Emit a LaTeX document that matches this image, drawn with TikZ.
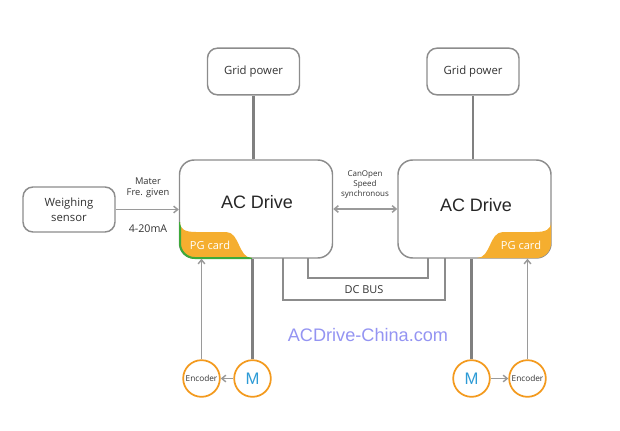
\documentclass[tikz,border=0pt]{standalone}
\usepackage{fontspec}
\setmainfont{Open Sans}
\newfontfamily\arialf{Liberation Sans}
\usetikzlibrary{arrows.meta}
\definecolor{boxgray}{HTML}{8C8C8C}
\definecolor{linegray}{HTML}{808080}
\definecolor{thingray}{HTML}{9A9A9A}
\definecolor{pgorange}{HTML}{F5AE2F}
\definecolor{pggreen}{HTML}{3DAA3A}
\definecolor{circorange}{HTML}{F39A1E}
\definecolor{mblue}{HTML}{2D9BD6}
\definecolor{wmark}{HTML}{9494F2}
\definecolor{txt}{HTML}{333333}
\begin{document}
\begin{tikzpicture}[x=0.75pt,y=-0.75pt,
  rbox/.style={draw=boxgray, line width=1.1pt, rounded corners=7.5pt, fill=white,
    align=center, inner sep=0pt, text=txt, font=\fontsize{8.5}{11}\selectfont,
    minimum width=69pt, minimum height=35pt},
  drivebox/.style={draw=boxgray, line width=1.1pt, rounded corners=11pt,
    minimum width=114.75pt, minimum height=73.5pt, inner sep=0pt},
  drivetext/.style={font=\arialf\fontsize{13.5}{16}\selectfont, text=black!85},
  pgtext/.style={font=\fontsize{8.3}{10}\selectfont, text=white},
  lbl/.style={font=\fontsize{7}{8.5}\selectfont, text=txt, align=center, inner sep=0pt},
  smlbl/.style={font=\fontsize{6}{7.5}\selectfont, text=txt, align=center, inner sep=0pt},
  heavy/.style={draw=linegray, line width=2.2pt},
  thin/.style={draw=thingray, line width=1.1pt},
  arr/.style={-{Straight Barb[length=3pt,width=5pt]}},
  circ/.style={circle, draw=circorange, line width=1.3pt, minimum size=27.5pt, inner sep=0pt, fill=white},
]
\useasboundingbox (0,0) rectangle (620,431);

% Grid power boxes
\node[rbox] (gp1) at (253.5,71.5) {Grid power};
\node[rbox] (gp2) at (473,71.5) {Grid power};

% AC drives
\node[drivebox] (d1) at (256,209) {};
\node[drivebox] (d2) at (474.5,209) {};

% PG card left
\begin{scope}
  \clip[rounded corners=11pt] (180,160) rectangle (332,258);
  \fill[pgorange] (170,222) -- (180,222) .. controls (180,230) and (186,232) .. (196,232)
    -- (226,232) .. controls (240,232) and (238,258) .. (252,258) -- (252,270) -- (170,270) -- cycle;
\end{scope}
\begin{scope}
  \clip (170,222) -- (180,222) .. controls (180,230) and (186,232) .. (196,232)
    -- (226,232) .. controls (240,232) and (238,258) .. (252,258) -- (252,270) -- (170,270) -- cycle;
  \draw[pggreen, line width=1.5pt, rounded corners=11pt] (180,160) rectangle (332,258);
\end{scope}
% PG card right
\begin{scope}
  \clip[rounded corners=11pt] (398,160) rectangle (551,258);
  \fill[pgorange] (561,222) -- (551,222) .. controls (551,230) and (545,232) .. (535,232)
    -- (503,232) .. controls (489,232) and (491,258) .. (477,258) -- (477,270) -- (561,270) -- cycle;
\end{scope}

\node[drivetext] (t1) at (257,202) {AC Drive};
\node[drivetext] (t2) at (476,205) {AC Drive};
\node[pgtext] (pg1) at (210,245.5) {PG card};
\node[pgtext] (pg2) at (521,245) {PG card};

% Weighing sensor
\node[rbox, minimum height=33.75pt] (ws) at (69,209.5) {Weighing\\sensor};

% grid power to drives
\draw[heavy] (gp1.south) -- (gp1.south |- d1.north);
\draw[heavy] (gp2.south) -- (gp2.south |- d2.north);

% sensor to drive
\draw[thin, arr] (ws.east) -- (ws.east -| d1.west);
\node[lbl] (mfg) at (148,188) {Mater\\Fre. given};
\node[lbl, font=\fontsize{8}{9}\selectfont] (ma) at (148,229) {4-20mA};

% CanOpen
\draw[thin, {Straight Barb[length=3pt,width=5pt]}-{Straight Barb[length=3pt,width=5pt]}] (d1.east) -- (d2.west);
\node[smlbl] (can) at (365,185) {CanOpen\\Speed\\synchronous};

% DC BUS
\coordinate (ia) at (308,258);
\coordinate (ib) at (308,278);
\coordinate (ic) at (428,278);
\coordinate (id) at (428,258);
\coordinate (oa) at (283,258);
\coordinate (ob) at (283,300);
\coordinate (oc) at (445,300);
\coordinate (od) at (445,258);
\draw[thin, draw=boxgray] (ia) -- (ib) -- (ic) -- (id);
\draw[thin, draw=boxgray] (oa) -- (ob) -- (oc) -- (od);
\node[lbl, font=\fontsize{8.2}{10}\selectfont] (dcbus) at (364,290) {DC BUS};

% motors and encoders
\node[circ, font=\arialf\fontsize{12.5}{14}\selectfont, text=mblue] (m1) at (252.5,378.5) {M};
\node[circ, font=\fontsize{6.2}{7}\selectfont, text=txt] (e1) at (201.5,378.5) {Encoder};
\node[circ, font=\arialf\fontsize{12.5}{14}\selectfont, text=mblue] (m2) at (471.5,378.5) {M};
\node[circ, font=\fontsize{6.2}{7}\selectfont, text=txt] (e2) at (527.5,378.5) {Encoder};

\draw[heavy] (m1.north |- d1.south) -- (m1.north);
\draw[heavy] (m2.north |- d2.south) -- (m2.north);
\draw[thin, arr] (m1.west) -- (e1.east);
\draw[thin, arr] (m2.east) -- (e2.west);
\draw[thin, arr] (e1.north) -- (e1.north |- d1.south);
\draw[thin, arr] (e2.north) -- (e2.north |- d2.south);

% watermark
\node[font=\arialf\fontsize{13.6}{15}\selectfont, text=wmark] (wm) at (368,335) {ACDrive-China.com};
\end{tikzpicture}
\end{document}
